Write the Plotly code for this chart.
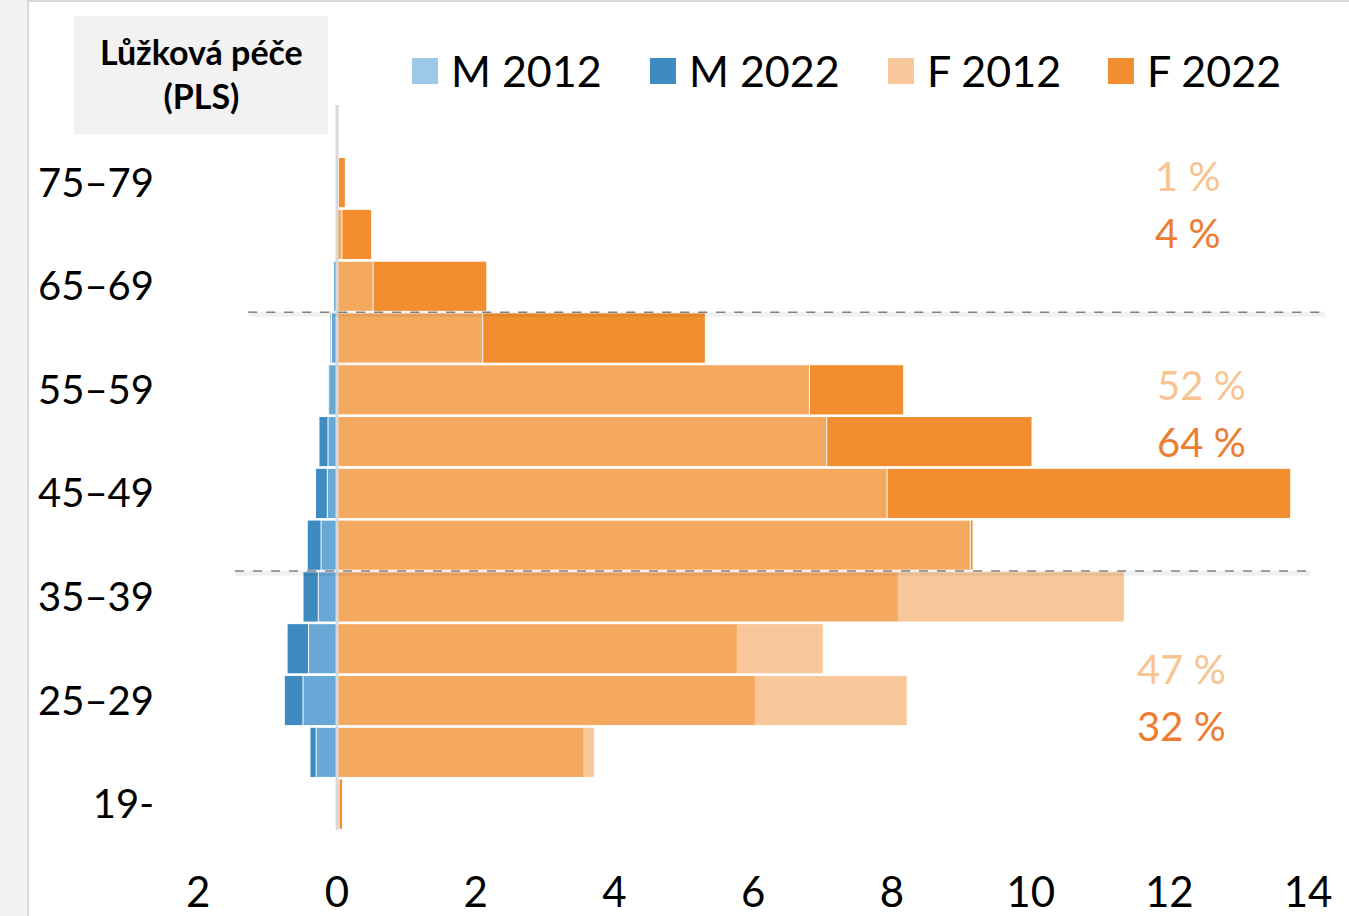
import plotly.graph_objects as go

# age bands, bottom to top
ages = ['19-', '20–24', '25–29', '30–34', '35–39', '40–44', '45–49',
        '50–54', '55–59', '60–64', '65–69', '70–74', '75–79']
age_ticks = ['19-', '25–29', '35–39', '45–49', '55–59', '65–69', '75–79']

# share of workers in each age band, %
m_2012 = [0.0, 0.30, 0.49, 0.41, 0.27, 0.23, 0.14, 0.13, 0.12, 0.08, 0.05, 0.0, 0.0]
m_2022 = [0.0, 0.39, 0.76, 0.72, 0.49, 0.43, 0.31, 0.26, 0.13, 0.10, 0.05, 0.01, 0.0]
f_2012 = [0.03, 3.71, 8.22, 7.01, 11.35, 9.13, 7.93, 7.06, 6.81, 2.10, 0.52, 0.07, 0.02]
f_2022 = [0.08, 3.56, 6.03, 5.77, 8.09, 9.17, 13.75, 10.02, 8.17, 5.31, 2.16, 0.50, 0.12]

x_ticks = [-2, 0, 2, 4, 6, 8, 10, 12, 14]

# share of women by age group: <40, 40-64, 65+
group_2012 = ['47 %', '52 %', '1 %']
group_2022 = ['32 %', '64 %', '4 %']

FONT = 'Lato'
C_M12 = 'rgba(119,179,223,0.72)'
C_M22 = 'rgb(61,139,193)'
C_F12 = 'rgba(245,179,115,0.72)'
C_F22 = 'rgb(242,142,47)'
TXT_F12 = 'rgb(248,196,146)'
TXT_F22 = 'rgb(237,125,49)'

# plot area in pixels (for paper-coordinate decorations)
W, H = 1349, 916
L, R, T, B = 165, 9, 105, 86
PW, PH = W - L - R, H - T - B


def px(x):
    return (x - L) / PW


def py(y):
    return (H - B - y) / PH


fig = go.Figure()
bar_line = dict(color='white', width=1)
fig.add_trace(go.Bar(name='M 2022', y=ages, x=[-v for v in m_2022], orientation='h',
                     marker=dict(color=C_M22, line=bar_line)))
fig.add_trace(go.Bar(name='M 2012', y=ages, x=[-v for v in m_2012], orientation='h',
                     marker=dict(color=C_M12, line=bar_line)))
fig.add_trace(go.Bar(name='F 2022', y=ages, x=f_2022, orientation='h',
                     marker=dict(color=C_F22, line=bar_line)))
fig.add_trace(go.Bar(name='F 2012', y=ages, x=f_2012, orientation='h',
                     marker=dict(color=C_F12, line=bar_line)))

shapes = []
# zero axis line
shapes.append(dict(type='line', xref='x', yref='y', x0=0, x1=0, y0=-0.5, y1=13.5,
                   line=dict(color='#D9D9D9', width=3), layer='above'))
# age group separators
for yv, xa, xb in [(9.5, -1.28, 14.24), (4.5, -1.47, 14.03)]:
    shapes.append(dict(type='line', xref='x', yref='y', x0=xa, x1=xb, y0=yv - 0.04, y1=yv - 0.04,
                       line=dict(color='rgba(0,0,0,0.06)', width=5), layer='above'))
    shapes.append(dict(type='line', xref='x', yref='y', x0=xa, x1=xb, y0=yv, y1=yv,
                       line=dict(color='#808080', width=1.5, dash='dash'), layer='above'))
# page edge
shapes.append(dict(type='rect', xref='paper', yref='paper', x0=px(-5), x1=px(28), y0=py(H + 5), y1=py(-5),
                   fillcolor='#F2F2F2', line=dict(color='#D9D9D9', width=2)))
shapes.append(dict(type='line', xref='paper', yref='paper', x0=px(28), x1=px(W), y0=py(1), y1=py(1),
                   line=dict(color='#D9D9D9', width=2)))
# title box
shapes.append(dict(type='rect', xref='paper', yref='paper', x0=px(74), x1=px(328), y0=py(134), y1=py(16),
                   fillcolor='#F2F2F2', line=dict(width=0)))

annotations = [dict(xref='paper', yref='paper', x=px(201), y=py(73), text='<b>Lůžková péče<br>(PLS)</b>',
                    xanchor='center', yanchor='middle', showarrow=False,
                    font=dict(family=FONT, size=34, color='black'), align='center')]

# legend drawn by hand so the swatches match the size of the text
legend = [('M 2012', C_M12, 412), ('M 2022', C_M22, 650), ('F 2012', C_F12, 888), ('F 2022', C_F22, 1108)]
for name, col, x0 in legend:
    shapes.append(dict(type='rect', xref='paper', yref='paper', x0=px(x0), x1=px(x0 + 26),
                       y0=py(84), y1=py(58), fillcolor=col, line=dict(width=0)))
    annotations.append(dict(xref='paper', yref='paper', x=px(x0 + 37), y=py(71), text=name,
                            xanchor='left', yanchor='middle', showarrow=False,
                            font=dict(family=FONT, size=43, color='black')))

pct_pos = [(12.17, 2.61, 1.51), (12.47, 8.09, 6.99), (12.27, 12.13, 11.03)]
for (xv, y12, y22), t12, t22 in zip(pct_pos, group_2012, group_2022):
    annotations.append(dict(x=xv, y=y12, xref='x', yref='y', text=t12, showarrow=False,
                            font=dict(family=FONT, size=40, color=TXT_F12)))
    annotations.append(dict(x=xv, y=y22, xref='x', yref='y', text=t22, showarrow=False,
                            font=dict(family=FONT, size=40, color=TXT_F22)))

fig.update_layout(
    width=W, height=H,
    margin=dict(l=L, r=R, t=T, b=B),
    barmode='overlay', bargap=0.03,
    plot_bgcolor='white', paper_bgcolor='white',
    showlegend=False,
    font=dict(family=FONT, color='black'),
    shapes=shapes, annotations=annotations,
)
fig.update_xaxes(range=[-2.48, 14.46], tickvals=x_ticks, ticktext=[str(abs(v)) for v in x_ticks],
                 showgrid=False, zeroline=False, showline=False, ticks='', automargin=False,
                 tickfont=dict(family=FONT, size=42), ticklabelstandoff=34)
fig.update_yaxes(type='category', categoryorder='array', categoryarray=ages, range=[-0.5, 13.5],
                 tickvals=age_ticks, showgrid=False, zeroline=False, showline=False, ticks='',
                 automargin=False, tickfont=dict(family=FONT, size=40), ticklabelstandoff=10)

# drop the browser's default body margin so the figure sits at the page corner
fig.write_html("out.html", config={'displayModeBar': False},
               post_script="document.body.style.margin = '0';")
